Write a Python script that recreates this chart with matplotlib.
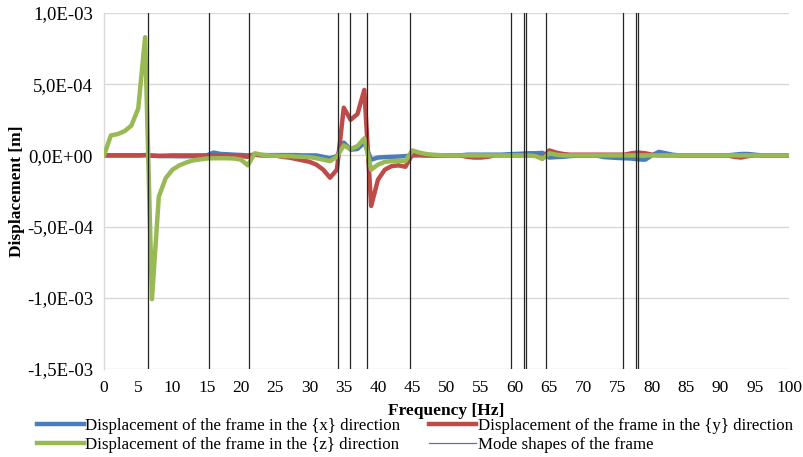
import matplotlib.pyplot as plt
from matplotlib.lines import Line2D

#
# Data (displacement values in units of 1E-04 m, one sample per Hz)
#
frequency = list(range(0, 101))

disp_x = [
    0.0, 0.0, 0.0, 0.0, 0.0, 0.0, 0.02, 0.0, -0.05, -0.05,
    -0.05, -0.06, -0.06, -0.06, -0.05, 0.0, 0.2, 0.1, 0.08, 0.05,
    0.03, 0.0, 0.05, 0.02, 0.02, 0.02, 0.02, 0.02, 0.02, 0.0,
    0.0, 0.0, -0.1, -0.2, -0.05, 0.9, 0.4, 0.45, 0.9, -0.3,
    -0.15, -0.12, -0.1, -0.08, -0.05, 0.0, 0.0, 0.0, 0.0, 0.0,
    0.0, 0.0, 0.0, 0.05, 0.05, 0.05, 0.05, 0.05, 0.05, 0.08,
    0.1, 0.12, 0.15, 0.15, 0.18, -0.15, -0.12, -0.1, -0.05, -0.02,
    -0.02, -0.02, -0.02, -0.12, -0.15, -0.18, -0.2, -0.22, -0.28, -0.3,
    0.0, 0.25, 0.15, 0.05, 0.0, 0.0, 0.0, 0.0, 0.0, 0.0,
    0.0, 0.0, 0.05, 0.1, 0.1, 0.05, 0.0, 0.0, 0.0, 0.0,
    0.0,
]

disp_y = [
    0.0, 0.0, 0.0, 0.0, 0.0, 0.0, 0.02, -0.03, -0.03, -0.02,
    0.0, 0.0, 0.0, 0.0, 0.0, 0.0, 0.0, 0.0, 0.0, -0.02,
    -0.05, -0.1, 0.05, 0.0, 0.0, 0.0, -0.1, -0.15, -0.25, -0.35,
    -0.45, -0.65, -1.0, -1.57, -1.0, 3.35, 2.5, 2.9, 4.6, -3.55,
    -1.7, -1.0, -0.75, -0.7, -0.8, 0.05, 0.05, 0.0, 0.0, 0.0,
    0.0, 0.0, 0.0, -0.1, -0.15, -0.15, -0.1, 0.0, 0.0, 0.0,
    0.0, 0.0, 0.0, 0.0, -0.2, 0.35, 0.2, 0.1, 0.05, 0.05,
    0.05, 0.05, 0.05, 0.05, 0.05, 0.05, 0.05, 0.15, 0.2, 0.15,
    0.05, 0.0, 0.0, 0.0, 0.0, 0.0, 0.0, 0.0, 0.0, 0.0,
    0.0, 0.0, -0.1, -0.15, -0.05, 0.0, 0.0, 0.0, 0.0, 0.0,
    0.0,
]

disp_z = [
    0.0, 1.4, 1.5, 1.7, 2.1, 3.3, 8.3, -10.1, -2.9, -1.6,
    -1.0, -0.7, -0.5, -0.35, -0.28, -0.22, -0.2, -0.2, -0.2, -0.22,
    -0.3, -0.7, 0.15, 0.05, 0.0, -0.02, -0.05, -0.05, -0.08, -0.1,
    -0.12, -0.2, -0.3, -0.4, -0.1, 0.7, 0.45, 0.65, 1.2, -1.0,
    -0.65, -0.45, -0.4, -0.38, -0.4, 0.35, 0.2, 0.1, 0.05, 0.02,
    0.0, 0.0, 0.0, 0.0, 0.0, 0.0, 0.0, 0.0, 0.0, 0.0,
    0.0, 0.0, 0.0, -0.05, -0.25, 0.15, 0.05, 0.0, 0.0, 0.0,
    0.0, 0.0, 0.0, 0.0, 0.0, 0.0, 0.0, 0.0, 0.0, 0.0,
    0.0, 0.0, 0.0, 0.0, 0.0, 0.0, 0.0, 0.0, 0.0, 0.0,
    0.0, 0.0, 0.0, 0.0, 0.0, 0.0, 0.0, 0.0, 0.0, 0.0,
    0.0,
]

mode_frequencies = [
    6.47, 15.37, 21.17, 34.12, 35.96, 38.44, 44.63,
    59.37, 61.36, 61.65, 64.48, 75.81, 77.66, 77.96,
]

y_ticks = [1.0e-3, 5.0e-4, 0.0, -5.0e-4, -1.0e-3, -1.5e-3]
y_tick_labels = ["1,0E-03", "5,0E-04", "0,0E+00", "-5,0E-04", "-1,0E-03", "-1,5E-03"]
x_ticks = list(range(0, 101, 5))

series_labels = [
    "Displacement of the frame in the {x} direction",
    "Displacement of the frame in the {y} direction",
    "Displacement of the frame in the {z} direction",
    "Mode shapes of the frame",
]

scale = 1e-4

#
# Figure
#
plt.rcParams["font.family"] = ["Liberation Serif", "DejaVu Serif"]

fig = plt.figure(figsize=(8.04, 4.57), dpi=100)
ax = fig.add_axes([104 / 804, 1 - 369 / 457, 685 / 804, 356 / 457])

#
# Series
#
line_x, = ax.plot(
    frequency,
    [v * scale for v in disp_x],
    color="#4a7ebb",
    linewidth=3.2,
    solid_joinstyle="round",
    zorder=3,
)
line_y, = ax.plot(
    frequency,
    [v * scale for v in disp_y],
    color="#be4b48",
    linewidth=3.2,
    solid_joinstyle="round",
    zorder=4,
)
line_z, = ax.plot(
    frequency,
    [v * scale for v in disp_z],
    color="#98b954",
    linewidth=3.2,
    solid_joinstyle="round",
    zorder=5,
)

#
# Mode shapes
#
for f in mode_frequencies:
    ax.axvline(f, color="#262626", linewidth=0.9, zorder=6)

#
# Axes
#
ax.set_xlim(0, 100)
ax.set_ylim(-1.5e-3, 1.0e-3)
ax.set_xticks(x_ticks)
ax.set_yticks(y_ticks)
ax.set_yticklabels(y_tick_labels)
ax.tick_params(axis="x", length=0, labelsize=12.5, colors="#000000", pad=8)
ax.tick_params(axis="y", length=0, labelsize=13.5, colors="#000000", pad=8)

ax.grid(axis="y", color="#d9d9d9", linewidth=1.0, zorder=0)
for side in ["top", "right", "bottom"]:
    ax.spines[side].set_visible(False)
ax.spines["left"].set_color("#d9d9d9")
ax.spines["left"].set_linewidth(1.0)

ax.set_xlabel("Frequency [Hz]", fontsize=12.5, fontweight="bold", labelpad=5)
ax.set_ylabel("Displacement [m]", fontsize=12.5, fontweight="bold")
ax.yaxis.set_label_coords((25 - 104) / 685, 0.5)

#
# Legend
#
mode_handle = Line2D([], [], color="#7e649e", linewidth=0.9)

fig.legend(
    [line_x, line_z, line_y, mode_handle],
    [series_labels[0], series_labels[2], series_labels[1], series_labels[3]],
    loc="upper left",
    bbox_to_anchor=(37 / 804, 1 - 418 / 457),
    ncol=2,
    frameon=False,
    fontsize=12.2,
    handlelength=2.75,
    handletextpad=0.1,
    columnspacing=1.7,
    labelspacing=0.15,
    borderpad=0.0,
    borderaxespad=0.0,
)

fig.savefig("out.png", dpi=100)
plt.close(fig)
